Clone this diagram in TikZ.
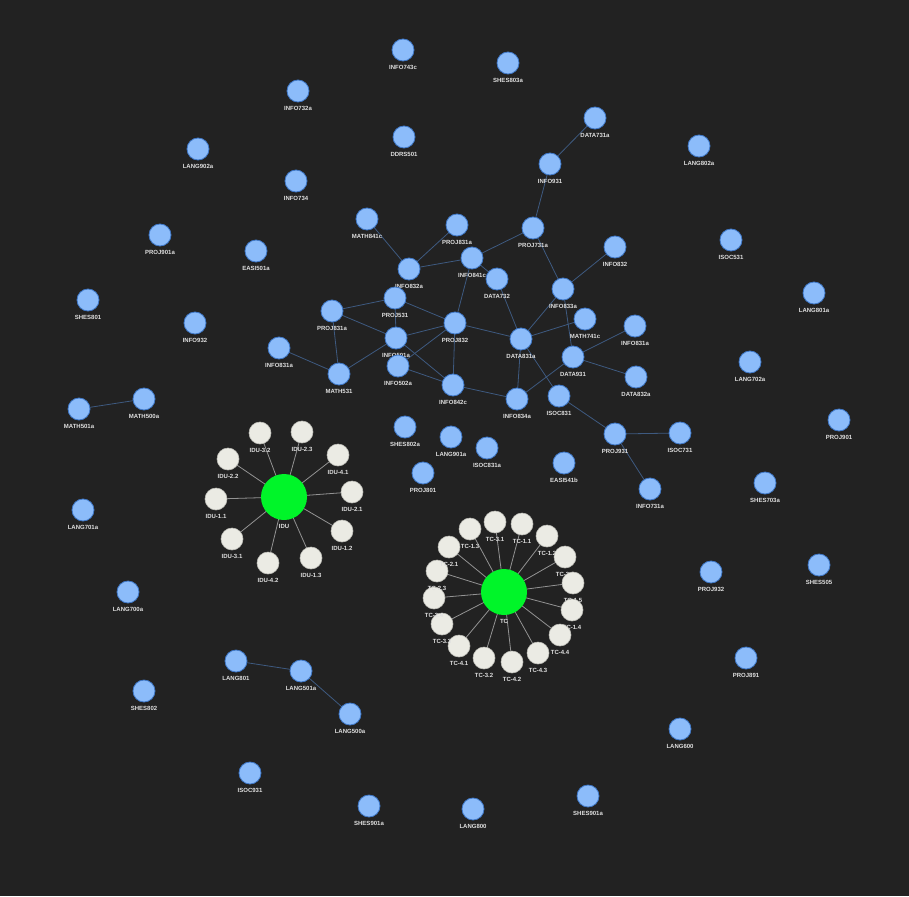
\documentclass[tikz,border=0pt]{standalone}
\usepackage{fontspec}
\setmainfont{Liberation Sans}
\usetikzlibrary{backgrounds}
\definecolor{fond}{HTML}{222222}
\definecolor{bleu}{HTML}{8CBCFA}
\definecolor{bleubord}{HTML}{3F78C8}
\definecolor{lien}{HTML}{3E5A80}
\definecolor{blanc}{HTML}{EBEBE4}
\definecolor{vert}{HTML}{00F529}
\begin{document}
\begin{tikzpicture}[x=1pt, y=-1pt]
\tikzset{etiq/.style={font=\bfseries\fontsize{6}{6}\selectfont, text=white!88!black, inner sep=1pt, label distance=2.5pt},
  cours/.style={draw=bleubord, fill=bleu, circle, inner sep=0pt, minimum size=22pt, line width=0.8pt,
    label={[etiq]below:#1}},
  sous/.style={draw=blanc!80!black, fill=blanc, circle, inner sep=0pt, minimum size=22pt, line width=0.6pt,
    label={[etiq]below:#1}},
  centre/.style={fill=vert, circle, inner sep=0pt, minimum size=46pt,
    label={[etiq]below:#1}},
  lien/.style={draw=lien, line width=0.8pt},
  rayon/.style={draw=gray!85!white, line width=0.8pt}}
\useasboundingbox (0,0) rectangle (909,896);
% IDU
\node[centre=IDU] (IDU) at (284,497) {};
\node[sous=IDU-3.2] (idu32) at (260,433) {};
\node[sous=IDU-2.3] (idu23) at (302,432) {};
\node[sous=IDU-4.1] (idu41) at (338,455) {};
\node[sous=IDU-2.2] (idu22) at (228,459) {};
\node[sous=IDU-2.1] (idu21) at (352,492) {};
\node[sous=IDU-1.1] (idu11) at (216,499) {};
\node[sous=IDU-1.2] (idu12) at (342,531) {};
\node[sous=IDU-3.1] (idu31) at (232,539) {};
\node[sous=IDU-1.3] (idu13) at (311,558) {};
\node[sous=IDU-4.2] (idu42) at (268,563) {};
% TC
\node[centre=TC] (TC) at (504,592) {};
\node[sous=TC-3.1] (tc31) at (495,522) {};
\node[sous=TC-1.1] (tc11) at (522,524) {};
\node[sous=TC-1.2] (tc12) at (547,536) {};
\node[sous=TC-2.2] (tc22) at (565,557) {};
\node[sous=TC-1.5] (tc15) at (573,583) {};
\node[sous=TC-1.4] (tc14) at (572,610) {};
\node[sous=TC-4.4] (tc44) at (560,635) {};
\node[sous=TC-4.3] (tc43) at (538,653) {};
\node[sous=TC-4.2] (tc42) at (512,662) {};
\node[sous=TC-3.2] (tc32) at (484,658) {};
\node[sous=TC-4.1] (tc41) at (459,646) {};
\node[sous=TC-3.3] (tc33) at (442,624) {};
\node[sous=TC-2.4] (tc24) at (434,598) {};
\node[sous=TC-2.3] (tc23) at (437,571) {};
\node[sous=TC-2.1] (tc21) at (449,547) {};
\node[sous=TC-1.3] (tc13) at (470,529) {};
% cours
\node[cours=INFO743c] (INFO743c) at (403,50) {};
\node[cours=SHES803a] (SHES803a) at (508,63) {};
\node[cours=INFO732a] (INFO732a) at (298,91) {};
\node[cours=DATA731a] (DATA731a) at (595,118) {};
\node[cours=DDRS501] (DDRS501) at (404,137) {};
\node[cours=LANG902a] (LANG902a) at (198,149) {};
\node[cours=LANG802a] (LANG802a) at (699,146) {};
\node[cours=INFO931] (INFO931) at (550,164) {};
\node[cours=INFO734] (INFO734) at (296,181) {};
\node[cours=MATH841c] (MATH841c) at (367,219) {};
\node[cours=PROJ831a] (PROJ831aH) at (457,225) {};
\node[cours=PROJ731a] (PROJ731a) at (533,228) {};
\node[cours=PROJ901a] (PROJ901a) at (160,235) {};
\node[cours=EASI501a] (EASI501a) at (256,251) {};
\node[cours=INFO841c] (INFO841c) at (472,258) {};
\node[cours=INFO832] (INFO832) at (615,247) {};
\node[cours=ISOC531] (ISOC531) at (731,240) {};
\node[cours=INFO832a] (INFO832a) at (409,269) {};
\node[cours=DATA732] (DATA732) at (497,279) {};
\node[cours=INFO833a] (INFO833a) at (563,289) {};
\node[cours=LANG801a] (LANG801a) at (814,293) {};
\node[cours=SHES801] (SHES801) at (88,300) {};
\node[cours=PROJ531] (PROJ531) at (395,298) {};
\node[cours=PROJ831a] (PROJ831aG) at (332,311) {};
\node[cours=MATH741c] (MATH741c) at (585,319) {};
\node[cours=INFO831a] (INFO831aD) at (635,326) {};
\node[cours=INFO932] (INFO932) at (195,323) {};
\node[cours=PROJ832] (PROJ832) at (455,323) {};
\node[cours=DATA831a] (DATA831a) at (521,339) {};
\node[cours=INFO501a] (INFO501a) at (396,338) {};
\node[cours=INFO831a] (INFO831aG) at (279,348) {};
\node[cours=DATA931] (DATA931) at (573,357) {};
\node[cours=LANG702a] (LANG702a) at (750,362) {};
\node[cours=INFO502a] (INFO502a) at (398,366) {};
\node[cours=MATH531] (MATH531) at (339,374) {};
\node[cours=DATA832a] (DATA832a) at (636,377) {};
\node[cours=INFO842c] (INFO842c) at (453,385) {};
\node[cours=MATH500a] (MATH500a) at (144,399) {};
\node[cours=MATH501a] (MATH501a) at (79,409) {};
\node[cours=ISOC831] (ISOC831) at (559,396) {};
\node[cours=INFO834a] (INFO834a) at (517,399) {};
\node[cours=SHES802a] (SHES802a) at (405,427) {};
\node[cours=PROJ931] (PROJ931) at (615,434) {};
\node[cours=ISOC731] (ISOC731) at (680,433) {};
\node[cours=PROJ901] (PROJ901) at (839,420) {};
\node[cours=LANG901a] (LANG901a) at (451,437) {};
\node[cours=ISOC831a] (ISOC831a) at (487,448) {};
\node[cours=EASI541b] (EASI541b) at (564,463) {};
\node[cours=PROJ801] (PROJ801) at (423,473) {};
\node[cours=INFO731a] (INFO731a) at (650,489) {};
\node[cours=SHES703a] (SHES703a) at (765,483) {};
\node[cours=LANG701a] (LANG701a) at (83,510) {};
\node[cours=SHES505] (SHES505) at (819,565) {};
\node[cours=PROJ932] (PROJ932) at (711,572) {};
\node[cours=LANG700a] (LANG700a) at (128,592) {};
\node[cours=PROJ891] (PROJ891) at (746,658) {};
\node[cours=LANG801] (LANG801) at (236,661) {};
\node[cours=LANG501a] (LANG501a) at (301,671) {};
\node[cours=SHES802] (SHES802) at (144,691) {};
\node[cours=LANG500a] (LANG500a) at (350,714) {};
\node[cours=LANG600] (LANG600) at (680,729) {};
\node[cours=ISOC931] (ISOC931) at (250,773) {};
\node[cours=SHES901a] (SHES901aD) at (588,796) {};
\node[cours=SHES901a] (SHES901aG) at (369,806) {};
\node[cours=LANG800] (LANG800) at (473,809) {};
\begin{scope}[on background layer]
\fill[fond] (0,0) rectangle (909,896);
% rayons
\foreach \f in {idu32, idu23, idu41, idu22, idu21, idu11, idu12, idu31, idu13, idu42}
  \draw[rayon] (IDU.center) -- (\f.center);
\foreach \f in {tc31, tc11, tc12, tc22, tc15, tc14, tc44, tc43, tc42, tc32, tc41, tc33, tc24, tc23, tc21, tc13}
  \draw[rayon] (TC.center) -- (\f.center);
% liens
\foreach \a/\b in {DATA731a/INFO931, INFO931/PROJ731a, PROJ731a/INFO841c, PROJ731a/INFO833a,
    INFO832/INFO833a, MATH841c/INFO832a, PROJ831aH/INFO832a, INFO832a/INFO841c,
    INFO841c/DATA732, INFO841c/PROJ832, DATA732/DATA831a, INFO833a/DATA831a,
    INFO833a/DATA931, DATA831a/MATH741c, DATA831a/PROJ832, DATA831a/INFO834a,
    DATA831a/ISOC831, DATA931/INFO834a, DATA931/INFO831aD, DATA931/DATA832a,
    ISOC831/PROJ931, PROJ931/ISOC731, PROJ931/INFO731a, PROJ531/PROJ831aG,
    PROJ531/PROJ832, PROJ531/INFO501a, PROJ831aG/INFO501a, PROJ831aG/MATH531,
    INFO501a/PROJ832, INFO501a/MATH531, INFO501a/INFO842c, PROJ832/INFO502a,
    PROJ832/INFO842c, INFO502a/INFO842c, INFO842c/INFO834a, INFO831aG/MATH531,
    MATH500a/MATH501a, LANG801/LANG501a, LANG501a/LANG500a}
  \draw[lien] (\a.center) -- (\b.center);
\end{scope}
\end{tikzpicture}
\end{document}
